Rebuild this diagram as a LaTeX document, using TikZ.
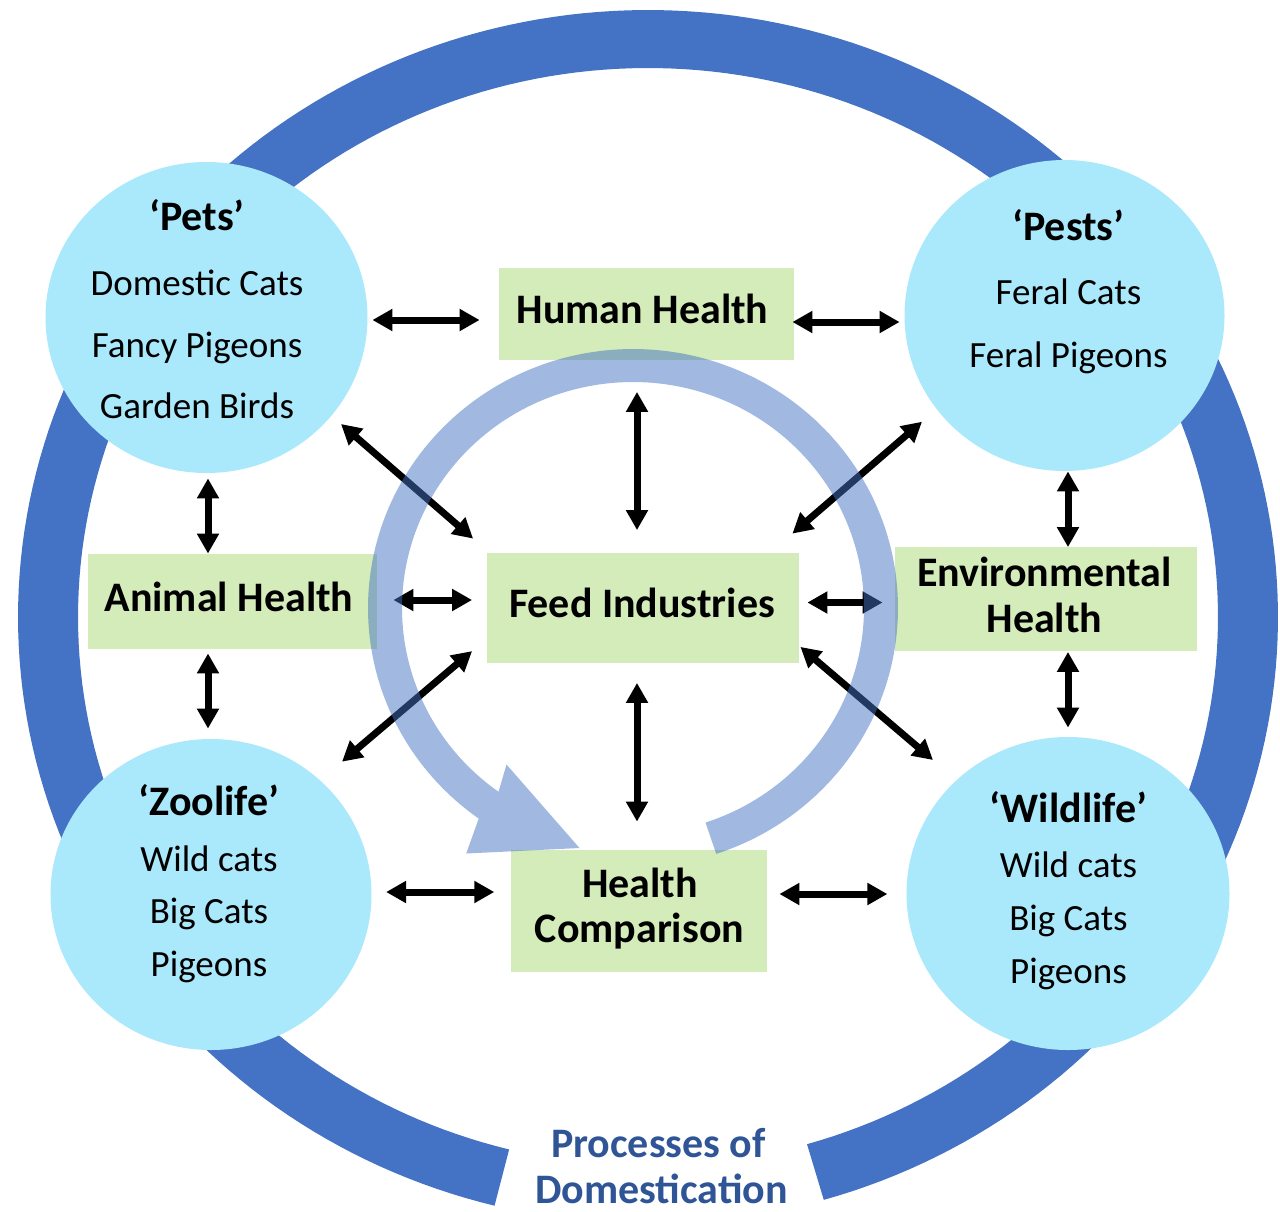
\documentclass[tikz,border=0pt]{standalone}
\usepackage{fontspec}
\setmainfont{Carlito}
\usetikzlibrary{arrows.meta,shapes.geometric,calc}
\definecolor{ringdark}{HTML}{4472C4}
\definecolor{circfill}{HTML}{AAE8FC}
\definecolor{boxfill}{HTML}{D4EBBA}
\definecolor{titleblue}{HTML}{2F5597}
\begin{document}
\begin{tikzpicture}[x=0.5pt,y=-0.5pt,
  blob/.style={ellipse, fill=circfill, inner sep=0pt},
  greenbox/.style={rectangle, fill=boxfill, inner sep=0pt},
  ttl/.style={anchor=base, inner sep=0pt, font=\fontsize{21pt}{25pt}\selectfont\bfseries},
  itm/.style={anchor=base, inner sep=0pt, font=\fontsize{18.5pt}{22pt}\selectfont},
  dbl/.style={line width=3.5pt, {Triangle[length=10pt,width=10.5pt]}-{Triangle[length=10pt,width=10.5pt]}},
  innerring/.style={fill=ringdark, fill opacity=0.5},
]
\useasboundingbox (0,0) rectangle (1280,1211);

% outer ring (processes of domestication)
\fill[ringdark] plot[domain=104.1:433.8, samples=240] ({648+630*cos(\x)},{617+607*sin(\x)})
  -- plot[domain=-433.8:-104.1, samples=240] ({648+570*cos(-\x)},{617+549*sin(-\x)}) -- cycle;

% circles
\node[blob, minimum width=161pt, minimum height=155.5pt] (pets) at (206.5,317.5) {};
\node[blob, minimum width=160pt, minimum height=155.5pt] (pests) at (1064.5,315.5) {};
\node[blob, minimum width=160.5pt, minimum height=155.5pt] (zoo) at (211,894.5) {};
\node[blob, minimum width=161.5pt, minimum height=156.5pt] (wild) at (1068,893.5) {};

% boxes
\node[greenbox, minimum width=147.5pt, minimum height=46pt] (hh) at (646,314) {};
\node[greenbox, minimum width=144.5pt, minimum height=47.5pt] (ah) at (232,601.5) {};
\node[greenbox, minimum width=156pt, minimum height=55pt] (feed) at (643,607.5) {};
\node[greenbox, minimum width=151pt, minimum height=52pt] (env) at (1046,599) {};
\node[greenbox, minimum width=128pt, minimum height=61pt] (hc) at (639,910.5) {};

% arrows
\draw[dbl] ($(pets.east)+(4.5,2.5)$) -- ($(hh.west)+(-18.5,6)$);
\draw[dbl] ($(hh.east)+(-1.5,8)$) -- ($(pests.west)+(-4.5,6.5)$);
\draw[dbl] ($(pets.south)+(1.5,5)$) -- ($(ah.north)+(-24,0)$);
\draw[dbl] ($(ah.south)+(-24,4)$) -- ($(zoo.north)+(-3,-10)$);
\draw[dbl] ($(pests.south)+(3.5,0)$) -- ($(env.north)+(22,0.5)$);
\draw[dbl] ($(env.south)+(22,0.5)$) -- ($(wild.north)+(0,-9)$);
\draw[dbl] ($(hh.south)+(-9,31.5)$) -- ($(feed.north)+(-6,-22)$);
\draw[dbl] ($(feed.south)+(-6,20)$) -- ($(hc.north)+(-2,-27.5)$);
\draw[dbl] ($(ah.east)+(16.5,-1.5)$) -- ($(feed.west)+(-14.5,-7.5)$);
\draw[dbl] ($(feed.east)+(8,-5)$) -- ($(env.west)+(-12,3.5)$);
\draw[dbl] ($(pets.center)+(134.5,106.5)$) -- ($(feed.north west)+(-13.5,-13.5)$);
\draw[dbl] ($(pests.center)+(-142.5,106.2)$) -- ($(feed.north east)+(-7,-18.5)$);
\draw[dbl] ($(zoo.center)+(131,-132.8)$) -- ($(feed.south west)+(-14.5,-11.8)$);
\draw[dbl] ($(wild.center)+(-135,-133.5)$) -- ($(feed.south east)+(1,-16)$);
\draw[dbl] ($(zoo.east)+(14.2,-2.5)$) -- ($(hc.west)+(-16.3,-18.5)$);
\draw[dbl] ($(hc.east)+(12,-16.5)$) -- ($(wild.west)+(-18.7,0.5)$);

% inner circular arrow (translucent, over boxes and arrows)
\fill[innerring] plot[domain=-71.7:234.4, samples=200] ({633+265*cos(-\x)},{608+259*sin(-\x)})
  -- (466.2,853.5) -- (579.5,848) -- (506.5,764.5)
  -- plot[domain=-234.4:71.7, samples=200] ({633+231*cos(\x)},{608+226*sin(\x)}) -- cycle;

% box labels
\node[ttl] (hht) at (642.5,323.3) {Human Health};
\node[ttl] (aht) at (229,611.7) {Animal Health};
\node[ttl] (feedt) at (642,617) {Feed Industries};
\node[ttl] (envt1) at (1044.5,586.7) {Environmental};
\node[ttl] (envt2) at (1044.5,632.7) {Health};
\node[ttl] (hct1) at (640,897.5) {Health};
\node[ttl] (hct2) at (639.5,942) {Comparison};

% circle texts
\node[ttl] (petst) at (197,230) {‘Pets’};
\node[itm] (pets1) at (197,295) {Domestic Cats};
\node[itm] (pets2) at (197,357) {Fancy Pigeons};
\node[itm] (pets3) at (197,418) {Garden Birds};

\node[ttl] (pestst) at (1068.5,240) {‘Pests’};
\node[itm] (pests1) at (1068.5,304) {Feral Cats};
\node[itm] (pests2) at (1068.5,367) {Feral Pigeons};

\node[ttl] (zoot) at (209,815) {‘Zoolife’};
\node[itm] (zoo1) at (209,871) {Wild cats};
\node[itm] (zoo2) at (209,923) {Big Cats};
\node[itm] (zoo3) at (209,976) {Pigeons};

\node[ttl] (wildt) at (1068.5,822) {‘Wildlife’};
\node[itm] (wild1) at (1068.5,877) {Wild cats};
\node[itm] (wild2) at (1068.5,930) {Big Cats};
\node[itm] (wild3) at (1068.5,983) {Pigeons};

% ring label
\node[ttl, text=titleblue] (proc1) at (658.5,1157) {Processes of};
\node[ttl, text=titleblue] (proc2) at (661.5,1203) {Domestication};
\end{tikzpicture}
\end{document}
